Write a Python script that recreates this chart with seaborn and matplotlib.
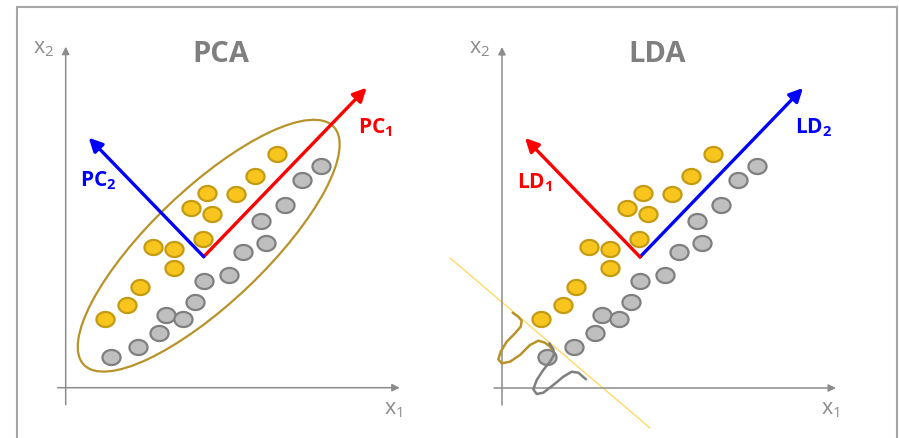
import numpy as np
import pandas as pd
import matplotlib.pyplot as plt
import seaborn as sns
from matplotlib.patches import Ellipse, Rectangle
from matplotlib.path import Path

sns.set_style("white")
plt.rcParams["font.family"] = ["Open Sans", "DejaVu Sans"]
plt.rcParams["mathtext.fontset"] = "custom"
plt.rcParams["mathtext.rm"] = "Open Sans"
plt.rcParams["mathtext.bf"] = "Open Sans:bold"

# Points in x1/x2 space (relative to the axis origin)
yellow_x1 = [39, 61, 74, 87, 108, 108, 137, 125, 141, 146, 170, 189, 211]
yellow_x2 = [69, 83, 101, 141, 139, 120, 149, 180, 195, 174, 194, 212, 234]
gray_x1 = [45, 72, 93, 100, 117, 129, 138, 163, 177, 200, 195, 219, 236, 255]
gray_x2 = [31, 41, 55, 73, 69, 86, 107, 113, 136, 145, 167, 183, 208, 222]

# Direction arrows: shared origin, and the two tips
axis_origin = (138, 131)
tip_major = (301, 300)
tip_minor = (23, 250)

# PCA ellipse
ell_center = (143, 142)
ell_width, ell_height, ell_angle = 345, 114, 43.6

# LDA projection line + class densities (hand drawn)
proj_x1 = [-52, 148]
proj_x2 = [130, -40]
dens_y_x1 = [10.7, 16.3, 19.7, 18.7, 13, 4.7, -1.3, -3.7, -0.3, 8, 18, 28, 36.3, 43, 48, 50.7]
dens_y_x2 = [75.3, 71.3, 67.3, 61.3, 54.7, 46.3, 36.3, 28.7, 24.7, 26.3, 33, 43, 47.3, 45.3, 41.3, 38]
dens_g_x1 = [47.3, 51.3, 52, 48, 41.3, 34.7, 31.3, 34.7, 41.3, 51.3, 61.3, 69.7, 76.3, 84]
dens_g_x2 = [44.7, 38.7, 33, 26.3, 18, 8, -1.3, -6, -4.7, 3, 11.3, 16.3, 15.3, 8.7]

pts = pd.DataFrame({
    "x1": yellow_x1 + gray_x1,
    "x2": yellow_x2 + gray_x2,
    "cls": ["yellow"] * len(yellow_x1) + ["gray"] * len(gray_x1),
})

YEL, YEL_EDGE = "#F7C51E", "#C49A12"
GRY, GRY_EDGE = "#BFBFBF", "#7F7F7F"
OLIVE = "#B8932A"
AX_GRAY = "#8C8C8C"
RED, BLUE = "#FF0000", "#0000FF"

# slightly wide oval marker
t = np.linspace(0, 2 * np.pi, 40)
oval = Path(np.column_stack([np.cos(t) * 1.2, np.sin(t)]), closed=True)

fig = plt.figure(figsize=(8.99, 4.38), dpi=100)

panels = [
    dict(left=0, width=449, ox=65.7, oy=387.7, title="PCA",
         c_major=RED, c_minor=BLUE, l_major="PC", l_minor="PC",
         n_major="1", n_minor="2", pos_major=(292, 260), pos_minor=(14, 207)),
    dict(left=449, width=450, ox=502, oy=388, title="LDA",
         c_major=BLUE, c_minor=RED, l_major="LD", l_minor="LD",
         n_major="2", n_minor="1", pos_major=(293, 260), pos_minor=(15, 205)),
]

for i, p in enumerate(panels):
    ax = fig.add_axes([p["left"] / 899, 0, p["width"] / 899, 1])
    ax.set_xlim(p["left"] - p["ox"], p["left"] + p["width"] - p["ox"])
    ax.set_ylim(p["oy"] - 438, p["oy"])
    ax.axis("off")

    # coordinate axes
    ax.annotate("", xy=(334, 0), xytext=(-8, 0),
                arrowprops=dict(arrowstyle="-|>", color=AX_GRAY, lw=1.1, mutation_scale=11,
                                shrinkA=0, shrinkB=0))
    ax.annotate("", xy=(0, 341), xytext=(0, -17),
                arrowprops=dict(arrowstyle="-|>", color=AX_GRAY, lw=1.1, mutation_scale=11,
                                shrinkA=0, shrinkB=0))
    ax.text(328, -22, r"x$_1$", color=AX_GRAY, fontsize=15.5, ha="center", va="center")
    ax.text(-22, 339, r"x$_2$", color=AX_GRAY, fontsize=15.5, ha="center", va="center")

    ax.text(155, 333, p["title"], color="#7F7F7F", fontsize=21, fontweight="bold",
            ha="center", va="center")

    if i == 0:
        ax.add_patch(Ellipse(ell_center, ell_width, ell_height, angle=ell_angle,
                             fill=False, ec=OLIVE, lw=1.6, zorder=1))
    else:
        ax.plot(proj_x1, proj_x2, color="#FFD966", lw=1, zorder=1, clip_on=False)

    for cls, fc, ec in [("yellow", YEL, YEL_EDGE), ("gray", GRY, GRY_EDGE)]:
        sns.scatterplot(data=pts[pts["cls"] == cls], x="x1", y="x2", ax=ax,
                        color=fc, edgecolor=ec, linewidth=1.6, s=170,
                        marker=oval, legend=False, zorder=2)

    if i == 1:
        ax.plot(dens_y_x1, dens_y_x2, color=OLIVE, lw=1.8, zorder=4,
                solid_joinstyle="round", solid_capstyle="round")
        ax.plot(dens_g_x1, dens_g_x2, color="#7F7F7F", lw=1.8, zorder=4,
                solid_joinstyle="round", solid_capstyle="round")

    ax.annotate("", xy=tip_major, xytext=axis_origin,
                arrowprops=dict(arrowstyle="-|>", color=p["c_major"], lw=2.4,
                                mutation_scale=20, shrinkA=0, shrinkB=0), zorder=5)
    ax.annotate("", xy=tip_minor, xytext=axis_origin,
                arrowprops=dict(arrowstyle="-|>", color=p["c_minor"], lw=2.4,
                                mutation_scale=20, shrinkA=0, shrinkB=0), zorder=5)

    ax.text(*p["pos_major"], p["l_major"] + r"$_\mathbf{" + p["n_major"] + "}$",
            color=p["c_major"], fontsize=15, fontweight="bold", ha="left", va="center")
    ax.text(*p["pos_minor"], p["l_minor"] + r"$_\mathbf{" + p["n_minor"] + "}$",
            color=p["c_minor"], fontsize=15, fontweight="bold", ha="left", va="center")

# outer frame
fig.add_artist(Rectangle((17 / 899, -0.05), (897 - 17) / 899, (438 - 7) / 438 + 0.05,
                         transform=fig.transFigure, fill=False, ec="#A6A6A6", lw=1.5))

fig.savefig("out.png", dpi=100)
